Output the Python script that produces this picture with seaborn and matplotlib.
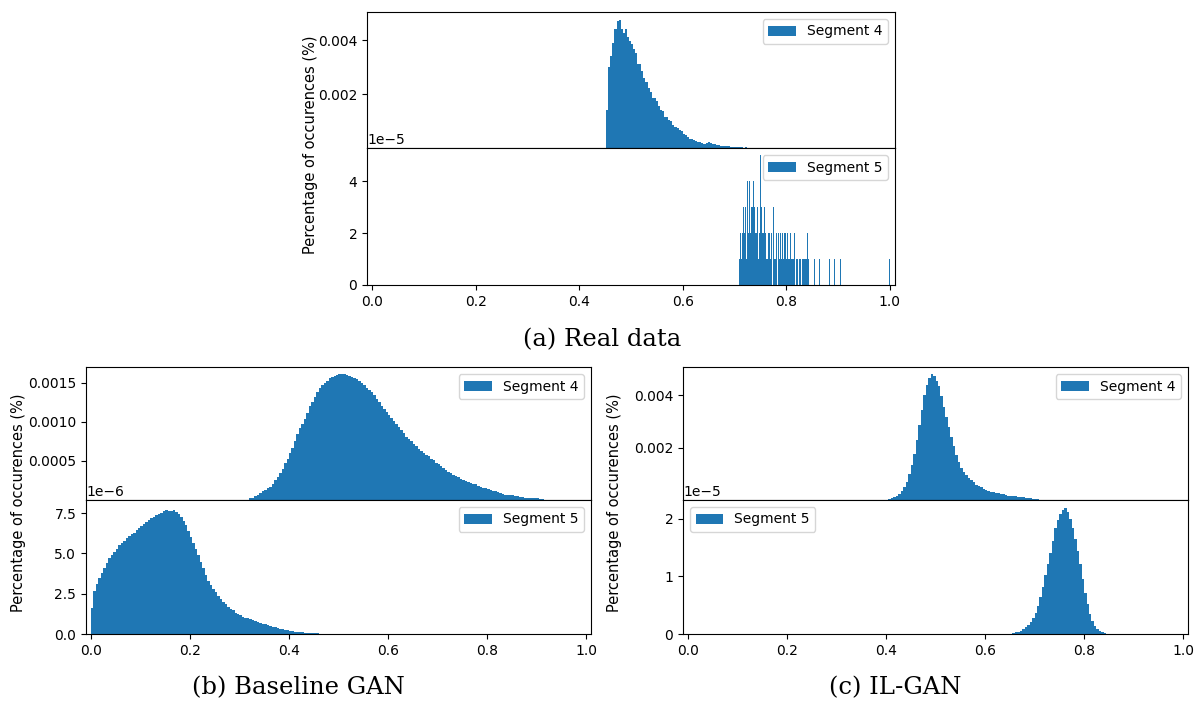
import numpy as np
import pandas as pd
import matplotlib
matplotlib.use("Agg")
import matplotlib.pyplot as plt
import seaborn as sns
from matplotlib.patches import Patch

# ---------------- data (bin heights) ----------------
# (a) Real data
a4_start, a4_width = 0.452, 0.004
a4_vals = [0.0014, 0.0030, 0.0034, 0.0039, 0.0044, 0.0047, 0.00475, 0.0044, 0.00428, 0.0044,
           0.0041, 0.00397, 0.00386, 0.00366, 0.00351, 0.0031, 0.0031, 0.00287, 0.0026, 0.00243,
           0.00222, 0.00209, 0.00185, 0.00184, 0.00174, 0.00156, 0.00142, 0.00138, 0.00114, 0.00116,
           0.00104, 0.00101, 0.00086, 0.00077, 0.00075, 0.00067, 0.00062, 0.00053, 0.00047, 0.00042,
           0.00035, 0.00033, 0.00031, 0.00026, 0.00024, 0.00022, 0.0002, 0.00016, 0.0002, 0.00021,
           0.00018, 0.00014, 0.00013, 0.0001, 0.00012, 0.00009, 0.00007, 0.00008, 0.00008, 0.00006,
           0.00004, 0.00004, 0.00004, 0.00003, 0.00002, 0.00003, 0.00001, 0.00003]

a5_start, a5_width, a5_end = 0.708, 0.002, 1.0
a5_counts = [1, 2, 1, 2, 3, 2, 3, 1, 4, 2,
             4, 2, 3, 3, 4, 3, 2, 2, 3, 1,
             2, 5, 3, 2, 3, 2, 1, 1, 2, 2,
             1, 2, 0, 3, 1, 1, 2, 0, 2, 1,
             2, 1, 2, 1, 2, 2, 1, 2, 1, 1,
             2, 1, 1, 2, 0, 1, 1, 0, 1, 1,
             0, 1, 1, 1, 1, 1, 2, 1, 0, 0]
a5_outliers = [0.855, 0.864, 0.883, 0.893, 0.905, 0.999]
a5_unit = 1e-5

# (b) Baseline GAN
b4_start, b4_width = 0.32, 0.005
b4_vals = [0.00002, 0.00003, 0.00005, 0.00007, 0.00009, 0.00011, 0.00013, 0.00015, 0.00017, 0.0002,
           0.00025, 0.0003, 0.00034, 0.0004, 0.00047, 0.00053, 0.0006, 0.00067, 0.00076, 0.00084,
           0.00092, 0.00098, 0.00104, 0.00112, 0.0012, 0.00125, 0.00132, 0.00138, 0.00143, 0.00147,
           0.0015, 0.00153, 0.00156, 0.00158, 0.00159, 0.0016, 0.00161, 0.00162, 0.00161, 0.0016,
           0.00159, 0.00158, 0.00157, 0.00155, 0.00153, 0.0015, 0.00147, 0.00144, 0.00141, 0.00138,
           0.00135, 0.0013, 0.00126, 0.00121, 0.00117, 0.00113, 0.00109, 0.00105, 0.00101, 0.00097,
           0.00093, 0.0009, 0.00086, 0.00081, 0.00078, 0.00075, 0.00072, 0.00069, 0.00066, 0.00063,
           0.0006, 0.00058, 0.00056, 0.00053, 0.00051, 0.00048, 0.00046, 0.00044, 0.00041, 0.00039,
           0.00036, 0.00035, 0.00032, 0.00031, 0.00029, 0.00027, 0.00026, 0.00024, 0.00023, 0.00022,
           0.00021, 0.0002, 0.00018, 0.00017, 0.00016, 0.00015, 0.00014, 0.00013, 0.00012, 0.00011,
           0.0001, 0.00009, 0.00008, 0.00007, 0.00007, 0.00006, 0.00006, 0.00005, 0.00005, 0.00004,
           0.00004, 0.00003, 0.00003, 0.00003, 0.00002, 0.00002, 0.00002, 0.00001, 0.00001]

b5_start, b5_width, b5_unit = 0.0, 0.005, 1e-6
b5_vals = [1.6, 2.65, 3.1, 3.5, 3.8, 4.12, 4.4, 4.7, 4.9, 5.1,
           5.27, 5.5, 5.63, 5.8, 5.94, 6.07, 6.18, 6.3, 6.45, 6.6,
           6.72, 6.84, 6.96, 7.09, 7.2, 7.28, 7.38, 7.45, 7.52, 7.62,
           7.72, 7.64, 7.62, 7.69, 7.58, 7.42, 7.25, 7.03, 6.79, 6.42,
           6.05, 5.66, 5.27, 4.9, 4.5, 4.08, 3.65, 3.3, 3.05, 2.82,
           2.58, 2.35, 2.15, 2.0, 1.85, 1.7, 1.56, 1.49, 1.33, 1.23,
           1.16, 1.07, 1.02, 0.97, 0.92, 0.87, 0.8, 0.73, 0.69, 0.64,
           0.6, 0.56, 0.51, 0.46, 0.41, 0.37, 0.33, 0.29, 0.26, 0.23,
           0.2, 0.16, 0.14, 0.13, 0.12, 0.1, 0.09, 0.08, 0.06, 0.06,
           0.05, 0.04, 0.02, 0.02]

# (c) IL-GAN
c4_start, c4_width = 0.405, 0.005
c4_vals = [0.00005, 0.00008, 0.0001, 0.00016, 0.00024, 0.00034, 0.00049, 0.0007, 0.00098, 0.00132,
           0.00175, 0.00228, 0.00285, 0.00342, 0.004, 0.0044, 0.00466, 0.00482, 0.00474, 0.00455,
           0.00433, 0.00398, 0.00355, 0.00318, 0.0028, 0.00242, 0.00204, 0.00172, 0.00145, 0.00122,
           0.00107, 0.00094, 0.00083, 0.00075, 0.00067, 0.00059, 0.00052, 0.00048, 0.00043, 0.00039,
           0.00035, 0.00031, 0.00029, 0.00027, 0.00025, 0.00022, 0.00021, 0.00019, 0.00017, 0.00015,
           0.00014, 0.00014, 0.00013, 0.00011, 0.0001, 0.00008, 0.00006, 0.00006, 0.00005, 0.00005,
           0.00004]

c5_start, c5_width, c5_unit = 0.655, 0.005, 1e-5
c5_vals = [0.02, 0.03, 0.04, 0.06, 0.09, 0.12, 0.16, 0.21, 0.28, 0.37,
           0.49, 0.65, 0.82, 1.02, 1.21, 1.41, 1.62, 1.84, 1.99, 2.09,
           2.16, 2.19, 2.12, 2.0, 1.84, 1.66, 1.45, 1.22, 0.96, 0.72,
           0.52, 0.35, 0.22, 0.14, 0.08, 0.05, 0.03, 0.02]

labels = ["Segment 4", "Segment 5"]
captions = ["(a) Real data", "(b) Baseline GAN", "(c) IL-GAN"]
ylabel = "Percentage of occurences (%)"
xticks = [0.0, 0.2, 0.4, 0.6, 0.8, 1.0]

# ---------------- style ----------------
BLUE = "#1f77b4"
W, H = 1196, 705
plt.rcParams["font.family"] = ["DejaVu Sans"]
plt.rcParams["font.size"] = 10
plt.rcParams["xtick.labelsize"] = 10
plt.rcParams["ytick.labelsize"] = 10

fig = plt.figure(figsize=(W / 100, H / 100), dpi=100)


def add_ax(left, right, top, bottom):
    return fig.add_axes([left / W, 1 - bottom / H, (right - left) / W, (bottom - top) / H])


def hist(ax, start, width, vals, extra=None):
    vals = np.asarray(vals, dtype=float)
    n = len(vals)
    centers = start + width * (np.arange(n) + 0.5)
    x, w = centers, vals
    nb = n
    if extra is not None:
        ex, ew, end = extra
        nb = int(round((end - start) / width))
        x = np.concatenate([centers, np.asarray(ex, dtype=float)])
        w = np.concatenate([vals, np.asarray(ew, dtype=float)])
    df = pd.DataFrame({"value": x, "weight": w})
    sns.histplot(data=df, x="value", weights="weight", bins=nb,
                 binrange=(start, start + nb * width), ax=ax, stat="count",
                 color=BLUE, alpha=1.0, linewidth=0, element="bars")
    ax.set_ylabel("")
    ax.set_xlabel("")


def finish(ax_top, ax_bot, ylim_top, ylim_bot, yt_top, yt_bot, legend_loc_bot):
    for ax in (ax_top, ax_bot):
        ax.set_xlim(-0.01, 1.01)
    ax_top.set_ylim(*ylim_top)
    ax_bot.set_ylim(*ylim_bot)
    ax_top.set_yticks(yt_top)
    ax_bot.set_yticks(yt_bot)
    ax_bot.set_xticks(xticks)
    ax_top.set_xticks(xticks)
    ax_top.tick_params(axis="x", bottom=False, labelbottom=False)
    ax_top.legend(handles=[Patch(facecolor=BLUE, label=labels[0])], loc="upper right")
    ax_bot.legend(handles=[Patch(facecolor=BLUE, label=labels[1])], loc=legend_loc_bot)


# ---- panel (a)
axA1 = add_ax(367, 895, 12, 148)
axA2 = add_ax(367, 895, 148, 285)
hist(axA1, a4_start, a4_width, a4_vals)
hist(axA2, a5_start, a5_width, np.asarray(a5_counts) * a5_unit,
     extra=(a5_outliers, [a5_unit] * len(a5_outliers), a5_end))
finish(axA1, axA2, (0, 0.00504), (0, 5.27e-5), [0.002, 0.004], [0, 2e-5, 4e-5], "upper right")

# ---- panel (b)
axB1 = add_ax(86, 591, 367, 500)
axB2 = add_ax(86, 591, 500, 634)
hist(axB1, b4_start, b4_width, b4_vals)
hist(axB2, b5_start, b5_width, np.asarray(b5_vals) * b5_unit)
finish(axB1, axB2, (0, 0.001705), (0, 8.32e-6), [0.0005, 0.0010, 0.0015],
       [0, 2.5e-6, 5e-6, 7.5e-6], "upper right")

# ---- panel (c)
axC1 = add_ax(683, 1188, 367, 500)
axC2 = add_ax(683, 1188, 500, 634)
hist(axC1, c4_start, c4_width, c4_vals)
hist(axC2, c5_start, c5_width, np.asarray(c5_vals) * c5_unit)
finish(axC1, axC2, (0, 0.00507), (0, 2.33e-5), [0.002, 0.004], [0, 1e-5, 2e-5], "upper left")

# ---- y labels and captions
for (px, py) in [(310, 145), (19, 503), (614, 503)]:
    fig.text(px / W, 1 - py / H, ylabel, rotation=90, ha="center", va="center", fontsize=10.5)

for cap, (px, py) in zip(captions, [(602, 340), (298, 688), (895, 688)]):
    fig.text(px / W, 1 - py / H, cap, ha="center", va="center",
             fontsize=17.5, family=["DejaVu Serif"])

fig.savefig("out.png", dpi=100)
